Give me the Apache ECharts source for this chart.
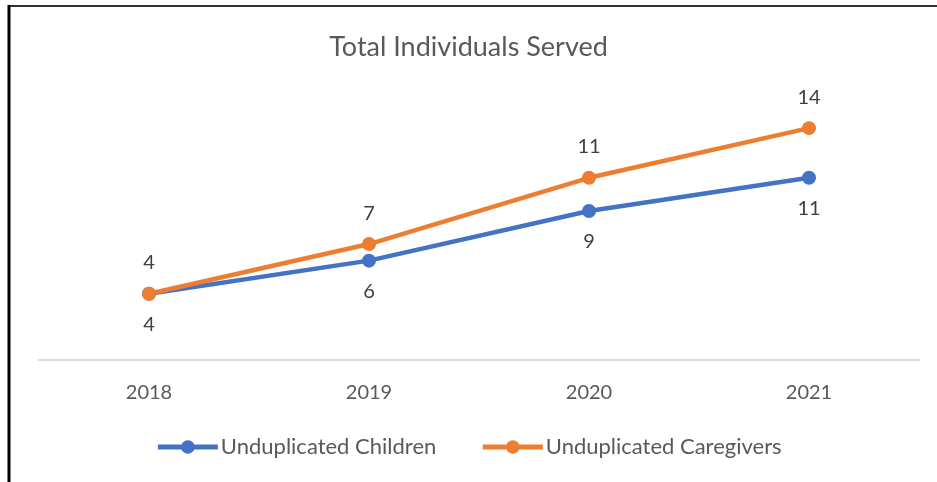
<!DOCTYPE html>
<html><head><meta charset="utf-8">
<script src="https://cdn.jsdelivr.net/npm/echarts@6/dist/echarts.min.js"></script>
<style>html,body{margin:0;padding:0;background:#fff}#c{width:937px;height:482px}</style>
</head><body><div id="c"></div>
<script>
const categories = ['2018', '2019', '2020', '2021'];
const children = [4, 6, 9, 11];
const caregivers = [4, 7, 11, 14];
const FONT = 'Lato, "Open Sans", sans-serif';
const chart = echarts.init(document.getElementById('c'));
chart.setOption({
  animation: false,
  backgroundColor: '#fff',
  title: { text: 'Total Individuals Served', left: 'center', top: 29,
    textStyle: { fontFamily: FONT, fontSize: 27, fontWeight: 'normal', color: '#595959' } },
  graphic: [
    { type: 'line', shape: { x1: 8, y1: 6, x2: 937, y2: 6 }, style: { stroke: '#333', lineWidth: 2 } },
    { type: 'line', shape: { x1: 9, y1: 5, x2: 9, y2: 482 }, style: { stroke: '#000', lineWidth: 3 } }
  ],
  legend: {
    bottom: 19, left: 'center', itemWidth: 60, itemHeight: 17, itemGap: 44,
    textStyle: { fontFamily: FONT, fontSize: 22, color: '#595959', padding: [0, 0, 0, -2] },
    lineStyle: { width: 5 },
    data: ['Unduplicated Children', 'Unduplicated Caregivers']
  },
  grid: { left: 39, right: 18, top: 95, bottom: 122 },
  xAxis: {
    type: 'category', data: categories, boundaryGap: true,
    axisLine: { lineStyle: { color: '#d9d9d9', width: 2 } },
    axisTick: { show: false },
    axisLabel: { fontFamily: FONT, fontSize: 20, color: '#595959', margin: 23 }
  },
  yAxis: { type: 'value', min: 0, max: 16, interval: 2, show: false, splitLine: { show: false } },
  series: [
    { name: 'Unduplicated Children', type: 'line', data: children, symbol: 'circle', symbolSize: 14,
      color: '#4472C4', lineStyle: { width: 4.5, color: '#4472C4' },
      label: { show: true, position: 'bottom', distance: 14, fontFamily: FONT, fontSize: 20, color: '#404040' } },
    { name: 'Unduplicated Caregivers', type: 'line', data: caregivers, symbol: 'circle', symbolSize: 14,
      color: '#ED7D31', lineStyle: { width: 4.5, color: '#ED7D31' },
      label: { show: true, position: 'top', distance: 14, fontFamily: FONT, fontSize: 20, color: '#404040' } }
  ]
});
</script></body></html>
